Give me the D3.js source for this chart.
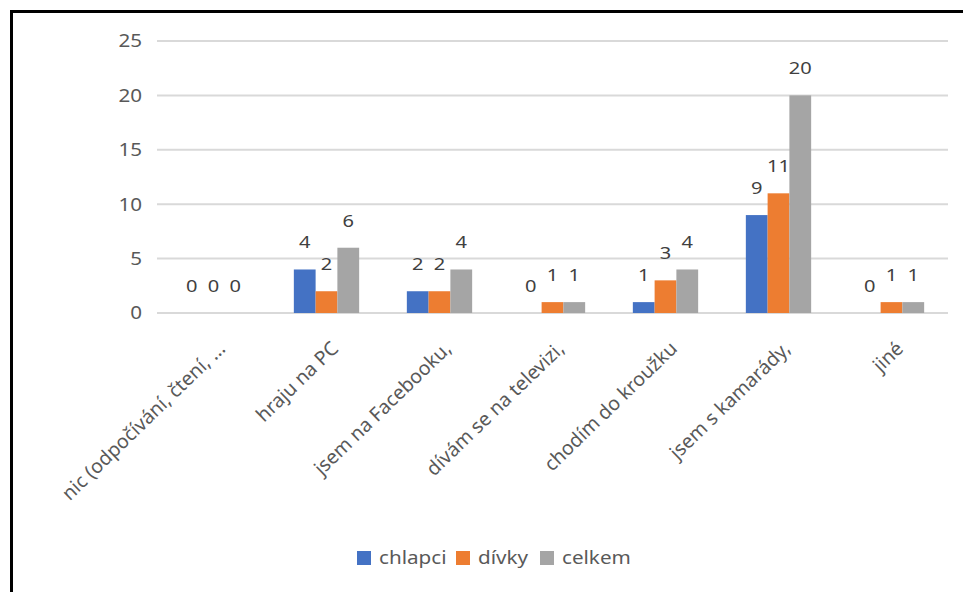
<!DOCTYPE html>
<html>
<head>
<meta charset="utf-8">
<script src="https://cdn.jsdelivr.net/npm/d3@7"></script>
<style>
  html, body { margin: 0; padding: 0; background: #fff; }
  svg { display: block; font-family: "Segoe UI", "Noto Sans", "Open Sans", sans-serif; }
</style>
</head>
<body>
<svg id="chart" width="963" height="592"></svg>
<script>
const categories = [
  "nic (odpočívání, čtení, ...",
  "hraju na PC",
  "jsem na Facebooku,",
  "dívám se na televizi,",
  "chodím do kroužku",
  "jsem s kamarády,",
  "jiné"
];
const seriesNames = ["chlapci", "dívky", "celkem"];
const chlapci = [0, 4, 2, 0, 1, 9, 0];
const divky   = [0, 2, 2, 1, 3, 11, 1];
const celkem  = [0, 6, 4, 1, 4, 20, 1];
const yTicks  = [0, 5, 10, 15, 20, 25];
const colors  = ["#4472C4", "#ED7D31", "#A5A5A5"];

const seriesValues = [chlapci, divky, celkem];
const data = categories.map((c, i) => ({
  cat: c,
  values: seriesNames.map((s, j) => ({ key: s, value: seriesValues[j][i], color: colors[j] }))
}));

const svg = d3.select("#chart");
const stretch = 1.18; // horizontal widening of the text seen in the reference

// outer frame (left and top edges visible)
svg.append("line").attr("x1", 11.5).attr("x2", 11.5).attr("y1", 10).attr("y2", 592)
  .attr("stroke", "#000").attr("stroke-width", 3);
svg.append("line").attr("x1", 10).attr("x2", 963).attr("y1", 11.5).attr("y2", 11.5)
  .attr("stroke", "#000").attr("stroke-width", 3);

const plotLeft = 157, plotRight = 948, plotTop = 41, plotBottom = 313;

const y = d3.scaleLinear().domain([0, 25]).range([plotBottom, plotTop]);
const x0 = d3.scaleBand().domain(categories).range([plotLeft, plotRight]).padding(0);
const bw = x0.bandwidth();
const barW = bw / (3 + 2.19);
const x1 = d3.scaleBand().domain(seriesNames)
  .range([(bw - 3 * barW) / 2, (bw + 3 * barW) / 2]).padding(0);

// gridlines
svg.append("g").selectAll("line").data(yTicks).join("line")
  .attr("x1", plotLeft).attr("x2", plotRight)
  .attr("y1", d => y(d)).attr("y2", d => y(d))
  .attr("stroke", "#D9D9D9").attr("stroke-width", 2);

// y tick labels
svg.append("g").selectAll("text").data(yTicks).join("text")
  .attr("transform", d => `translate(142,${y(d)}) scale(${stretch},1)`)
  .attr("dy", "0.36em")
  .attr("text-anchor", "end")
  .attr("font-size", 17.5).attr("fill", "#595959")
  .text(d => d);

// bars
const groups = svg.append("g").selectAll("g").data(data).join("g")
  .attr("transform", d => `translate(${x0(d.cat)},0)`);

groups.selectAll("rect").data(d => d.values.filter(v => v.value > 0)).join("rect")
  .attr("x", v => x1(v.key)).attr("width", x1.bandwidth())
  .attr("y", v => y(v.value)).attr("height", v => y(0) - y(v.value))
  .attr("fill", v => v.color);

// value labels
groups.selectAll("text").data(d => d.values).join("text")
  .attr("transform", v => `translate(${x1(v.key) + x1.bandwidth() / 2},${y(v.value) - 21}) scale(${stretch},1)`)
  .attr("text-anchor", "middle")
  .attr("font-size", 17).attr("fill", "#404040")
  .text(v => v.value);

// category labels (rotated)
svg.append("g").selectAll("text").data(categories).join("text")
  .attr("transform", d => `translate(${x0(d) + bw / 2 + 13},350) rotate(-44)`)
  .attr("text-anchor", "end")
  .attr("font-size", 19.5).attr("fill", "#595959")
  .text(d => d);

// legend
const legendItems = [
  { name: "chlapci", color: colors[0], x: 357 },
  { name: "dívky", color: colors[1], x: 456 },
  { name: "celkem", color: colors[2], x: 540 }
];
const legend = svg.append("g");
const li = legend.selectAll("g").data(legendItems).join("g")
  .attr("transform", d => `translate(${d.x},551)`);
li.append("rect").attr("width", 14).attr("height", 14).attr("fill", d => d.color);
li.append("text").attr("transform", `translate(22,7) scale(${stretch},1)`).attr("dy", "0.36em")
  .attr("font-size", 17.5).attr("fill", "#595959").text(d => d.name);
</script>
</body>
</html>
